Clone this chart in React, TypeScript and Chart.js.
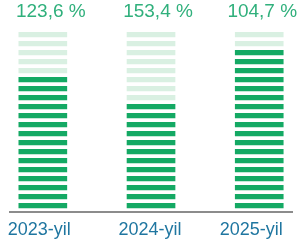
import React, { useEffect, useRef } from "react";
import { Chart, registerables } from "chart.js";

Chart.register(...registerables);

const categories = ["2023-yil", "2024-yil", "2025-yil"];
const percentLabels = ["123,6 %", "153,4 %", "104,7 %"];
const darkStripes = [15, 12, 18];
const totalStripes = 20;

const DARK = "#14a964";
const LIGHT = "#d9f0e2";
const FONT = "'Liberation Sans', Arial, sans-serif";
// small horizontal nudges (px) for text, matching the reference layout
const valueLabelShift = [8, 7, 3];
const tickLabelShift = [-3.5, -1, -8];
const PX_PER_UNIT = 109;

const valueLabelPlugin = {
  id: "valueLabels",
  afterDatasetsDraw(chart: any) {
    const { ctx } = chart;
    const xs = chart.scales.x;
    ctx.save();
    ctx.font = `19px ${FONT}`;
    ctx.fillStyle = "#30b07c";
    ctx.textAlign = "center";
    ctx.textBaseline = "alphabetic";
    percentLabels.forEach((t, i) => {
      ctx.fillText(t, xs.getPixelForValue(i) + valueLabelShift[i], 17);
    });
    ctx.restore();
  },
};

export default function App() {
  const ref = useRef<HTMLCanvasElement>(null);
  useEffect(() => {
    if (!ref.current) return;
    const datasets = Array.from({ length: totalStripes }, (_, k) => ({
      label: `s${k}`,
      data: categories.map((_, i) => ({ x: i, y: [k + 0.45, k + 0.95] })),
      backgroundColor: categories.map((_, i) => (k < darkStripes[i] ? DARK : LIGHT)),
      borderWidth: 0,
      barThickness: 48,
      grouped: false,
    }));
    const chart = new Chart(ref.current, {
      type: "bar",
      data: { datasets: datasets as any },
      options: {
        animation: false,
        responsive: false,
        layout: { padding: { left: 8, right: 13, top: 32, bottom: 0 } },
        plugins: { legend: { display: false }, tooltip: { enabled: false } },
        scales: {
          x: {
            type: "linear",
            offset: false,
            min: -0.3028,
            max: 2.3028,
            grid: { display: false, drawTicks: false, tickLength: 0 },
            border: { display: true, color: "#8c8c8c", width: 2 },
            afterBuildTicks: (scale: any) => {
              scale.ticks = categories.map((_, i) => ({ value: i + tickLabelShift[i] / PX_PER_UNIT }));
            },
            afterFit: (scale: any) => {
              scale.height = 29;
            },
            ticks: {
              autoSkip: false,
              maxRotation: 0,
              padding: 7,
              color: "#1f76a0",
              font: { size: 18, family: FONT },
              callback: (_v: any, index: number) => categories[index] ?? "",
            },
          },
          y: { display: false, min: 0, max: totalStripes },
        },
      },
      plugins: [valueLabelPlugin],
    });
    return () => chart.destroy();
  }, []);
  return (
    <div style={{ position: "absolute", left: 0, top: 0, width: 305, height: 241, background: "#fff" }}>
      <canvas ref={ref} width={305} height={241} />
    </div>
  );
}
